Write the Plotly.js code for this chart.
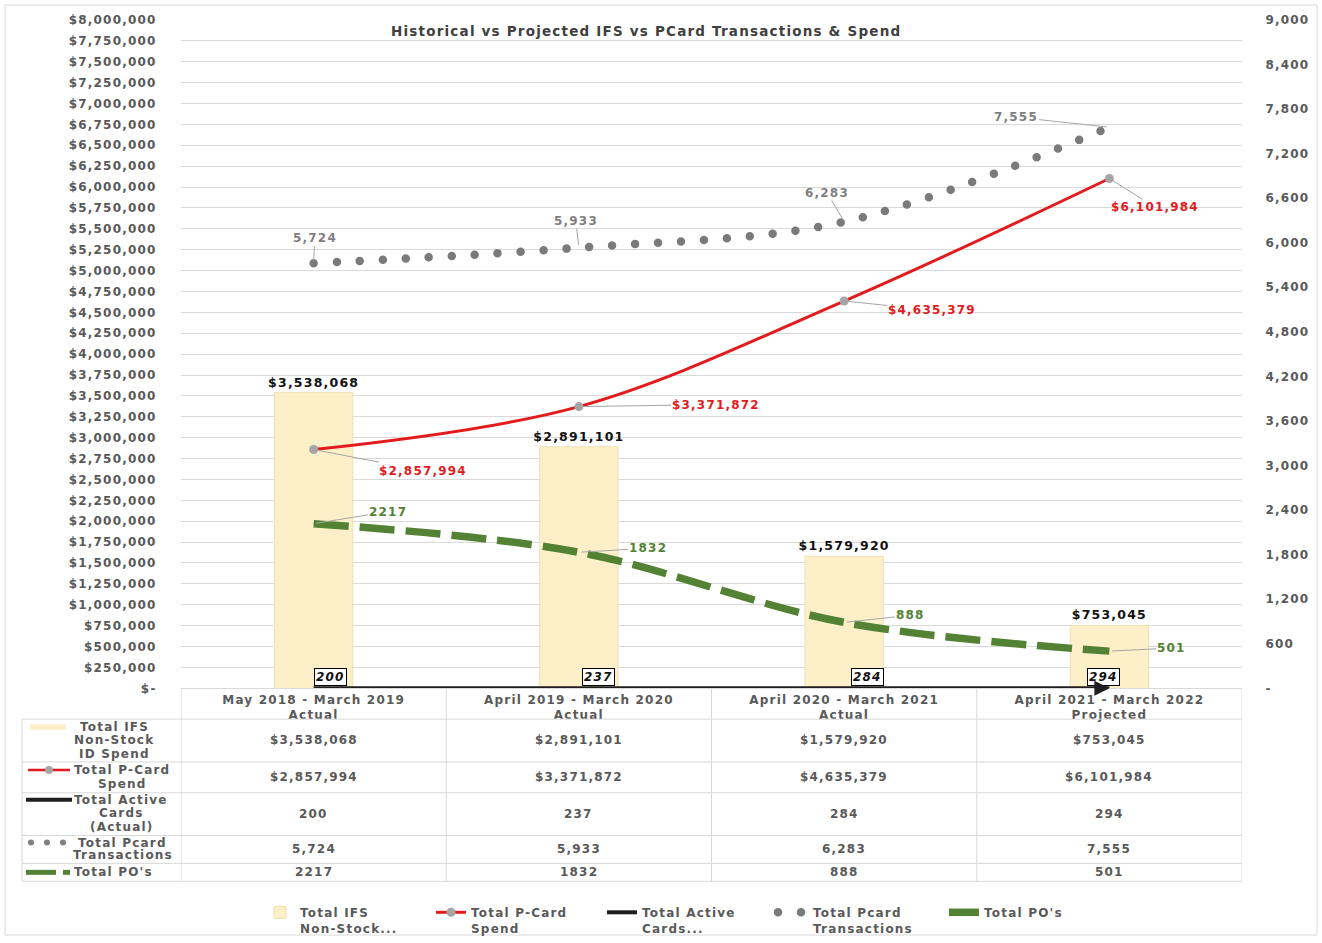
<!DOCTYPE html>
<html>
<head>
<meta charset="utf-8">
<script src="https://cdn.plot.ly/plotly-3.0.1.min.js"></script>
<style>
html,body{margin:0;padding:0;background:#fff;}
svg text{letter-spacing:1.2px;}
path[style*="stroke-dasharray: 0px"]{stroke-linecap:round !important;}
</style>
</head>
<body>
<div id="chart" style="width:1322px;height:943px;"></div>
<script>
// ---------------- data ----------------
const categories = [
  "May 2018 - March 2019<br>Actual",
  "April 2019 - March 2020<br>Actual",
  "April 2020 - March 2021<br>Actual",
  "April 2021 - March 2022<br>Projected"
];
const ifsSpend = [3538068, 2891101, 1579920, 753045];
const pcardSpend = [2857994, 3371872, 4635379, 6101984];
const activeCards = [200, 237, 284, 294];
const pcardTransactions = [5724, 5933, 6283, 7555];
const totalPOs = [2217, 1832, 888, 501];

const legendNames = [
  "Total IFS<br>Non-Stock...",
  "Total P-Card<br>Spend",
  "Total Active<br>Cards...",
  "Total Pcard<br>Transactions",
  "Total PO's"
];
const rowLabels = [
  "Total IFS<br>Non-Stock<br>ID Spend",
  "Total P-Card<br>Spend",
  "Total Active<br>Cards<br>(Actual)",
  "Total Pcard<br>Transactions",
  "Total PO's"
];
const chartTitle = "Historical vs Projected IFS vs PCard Transactions & Spend";
const leftTickMax = 8000000, leftTickStep = 250000;
const rightTickMax = 9000, rightTickStep = 600;

// ---------------- helpers ----------------
const W = 1322, H = 943;
const px = p => p / W;          // x pixel -> paper
const py = p => (H - p) / H;    // y pixel -> paper
const money = v => "$" + v.toLocaleString("en-US");
const num = v => v.toLocaleString("en-US");

const FONT = "DejaVu Sans";
const GRAY = "#595959";
const baseFont = (size, color) => ({family: FONT, size: size, color: color || GRAY, weight: 700});

const leftTickVals = [], leftTickText = [];
for (let v = 0; v <= leftTickMax; v += leftTickStep) {
  leftTickVals.push(v);
  leftTickText.push(v === 0 ? "$-" : money(v));
}
const rightTickVals = [], rightTickText = [];
for (let v = 0; v <= rightTickMax; v += rightTickStep) {
  rightTickVals.push(v);
  rightTickText.push(v === 0 ? "-" : num(v));
}

// ---------------- traces ----------------
const traces = [
  {
    type: "bar", name: legendNames[0], x: categories, y: ifsSpend, yaxis: "y",
    width: 0.295,
    marker: {color: "#FDF0C9", line: {color: "#F1DFB0", width: 1}},
    text: ifsSpend.map(money), textposition: "outside", cliponaxis: false, constraintext: "none",
    textfont: baseFont(12.5, "#111111"), hoverinfo: "skip"
  },
  {
    type: "scatter", mode: "lines+markers", name: legendNames[1], x: categories, y: pcardSpend, yaxis: "y",
    line: {color: "#E31B1D", width: 3, shape: "spline"},
    marker: {color: "#A5A5A5", size: 9}, hoverinfo: "skip"
  },
  {
    type: "scatter", mode: "lines", name: legendNames[2], x: categories, y: activeCards, yaxis: "y",
    line: {color: "#1E1E1E", width: 4}, hoverinfo: "skip", cliponaxis: false
  },
  {
    type: "scatter", mode: "lines", name: legendNames[3], x: categories, y: pcardTransactions, yaxis: "y2",
    line: {color: "#7A7A7A", width: 8.5, dash: "0px,23px", shape: "spline"}, hoverinfo: "skip"
  },
  {
    type: "scatter", mode: "lines", name: legendNames[4], x: categories, y: totalPOs, yaxis: "y2",
    line: {color: "#548235", width: 7.5, dash: "35px,11px", shape: "spline"}, hoverinfo: "skip"
  }
];

// ---------------- annotations ----------------
const annotations = [];
// title
annotations.push({xref: "paper", yref: "paper", x: px(646), y: py(31), xanchor: "center", yanchor: "middle",
  text: chartTitle, showarrow: false, font: baseFont(13.5, "#404040")});

// leader-line data labels
const leader = (xi, yv, yref, text, color, ax, ay) => ({
  xref: "x", yref: yref, x: categories[xi], y: yv, text: text, showarrow: true,
  arrowhead: 0, arrowwidth: 1, arrowcolor: "#A6A6A6", ax: ax, ay: ay, standoff: 3,
  font: baseFont(12, color)
});
const transOff = [[1, -25], [-3, -27], [-17, -29], [-93, -10]];
pcardTransactions.forEach((v, i) => annotations.push(leader(i, v, "y2", num(v), "#7F7F7F", transOff[i][0], transOff[i][1])));
const spendOff = [[109, 21], [137, -2], [88, 9], [46, 29]];
pcardSpend.forEach((v, i) => annotations.push(leader(i, v, "y", money(v), "#E31B1D", spendOff[i][0], spendOff[i][1])));
const poOff = [[74, -12], [69, -4], [66, -7], [62, -3]];
totalPOs.forEach((v, i) => annotations.push(leader(i, v, "y2", String(v), "#548235", poOff[i][0], poOff[i][1])));

// active card boxed labels
const cardShift = [17, 20, 23, -6];
activeCards.forEach((v, i) => annotations.push({
  xref: "x", yref: "y", x: categories[i], y: v, text: "<i>" + v + "</i>", showarrow: false,
  xshift: cardShift[i], yshift: 11, bgcolor: "#FFFFFF", bordercolor: "#000000", borderwidth: 1, borderpad: 1,
  font: baseFont(12, "#111111")
}));
// arrow head at end of active cards line
annotations.push({xref: "x", yref: "y", x: categories[3], y: activeCards[3], text: "", showarrow: true,
  arrowhead: 2, arrowsize: 1, arrowwidth: 3, arrowcolor: "#1E1E1E", ax: -14, ay: 0, standoff: -8});

// data table body
const rowCenters = [744, 781, 818, 854, 877];
const tableRows = [ifsSpend.map(money), pcardSpend.map(money), activeCards.map(String), pcardTransactions.map(num), totalPOs.map(String)];
tableRows.forEach((row, r) => row.forEach((txt, c) => annotations.push({
  xref: "x", yref: "paper", x: categories[c], y: py(rowCenters[r]), text: txt, showarrow: false,
  xanchor: "center", yanchor: "middle", font: baseFont(12)
})));
// row labels, one annotation per line for tight line spacing
const rowLabelX = [114, 122, 121, 123, 72];
const rowLineY = [[731, 744, 758], [774, 788], [804, 817, 831], [847, 860], [877]];
rowLabels.forEach((t, r) => t.split("<br>").forEach((line, k) => annotations.push({
  xref: "paper", yref: "paper", x: px(rowLabelX[r]), y: py(rowLineY[r][k]), text: line, showarrow: false,
  xanchor: r === 4 ? "left" : "center", yanchor: "middle", font: baseFont(12)
})));

// ---------------- shapes (table grid, legend keys, border) ----------------
const LG = "#D9D9D9";
const shapes = [];
shapes.push({type: "rect", xref: "paper", yref: "paper", x0: px(5), x1: px(1317), y0: py(5), y1: py(940), line: {color: LG, width: 1}});
[-0.5, 0.5, 1.5, 2.5, 3.5].forEach(xv => shapes.push({type: "line", xref: "x", yref: "paper", x0: xv, x1: xv, y0: py(692), y1: py(886), line: {color: LG, width: 1}, layer: "below"}));
[723, 766, 797, 840, 868, 886].forEach(yp => shapes.push({type: "line", xref: "paper", yref: "paper", x0: px(22), x1: px(1242), y0: py(yp), y1: py(yp), line: {color: LG, width: 1}}));
shapes.push({type: "line", xref: "paper", yref: "paper", x0: px(22), x1: px(22), y0: py(723), y1: py(886), line: {color: LG, width: 1}});
// keys in table row headers
shapes.push({type: "rect", xref: "paper", yref: "paper", x0: px(30), x1: px(66), y0: py(728), y1: py(734), fillcolor: "#FDF0C9", line: {width: 0}});
shapes.push({type: "line", xref: "paper", yref: "paper", x0: px(28), x1: px(70), y0: py(774), y1: py(774), line: {color: "#E31B1D", width: 2.5}});
shapes.push({type: "circle", xref: "paper", yref: "paper", x0: px(45), x1: px(53), y0: py(770), y1: py(778), fillcolor: "#A5A5A5", line: {width: 0}});
shapes.push({type: "line", xref: "paper", yref: "paper", x0: px(26), x1: px(72), y0: py(804), y1: py(804), line: {color: "#1E1E1E", width: 4}});
[31, 47, 63].forEach(cx => shapes.push({type: "circle", xref: "paper", yref: "paper", x0: px(cx - 3), x1: px(cx + 3), y0: py(844), y1: py(850), fillcolor: "#7F7F7F", line: {width: 0}}));
shapes.push({type: "line", xref: "paper", yref: "paper", x0: px(26), x1: px(56), y0: py(877), y1: py(877), line: {color: "#548235", width: 5}});
shapes.push({type: "line", xref: "paper", yref: "paper", x0: px(63), x1: px(70), y0: py(877), y1: py(877), line: {color: "#548235", width: 5}});

// ---------------- layout ----------------
const layout = {
  width: W, height: H,
  margin: {l: 0, r: 0, t: 0, b: 0, pad: 0},
  paper_bgcolor: "#FFFFFF", plot_bgcolor: "#FFFFFF",
  font: baseFont(12),
  showlegend: true,
  hovermode: false,
  bargap: 0,
  xaxis: {
    type: "category", domain: [px(181), px(1242)], range: [-0.5, 3.5],
    showgrid: false, zeroline: false, showline: true, linecolor: LG, linewidth: 1,
    ticks: "", tickfont: baseFont(12), fixedrange: true, anchor: "y"
  },
  yaxis: {
    domain: [py(692), py(20)], range: [0, leftTickMax],
    tickmode: "array", tickvals: leftTickVals, ticktext: leftTickText,
    showgrid: true, gridcolor: LG, gridwidth: 1, zeroline: false, showline: false,
    ticks: "outside", ticklen: 21, tickcolor: "rgba(0,0,0,0)", tickfont: baseFont(12), fixedrange: true
  },
  yaxis2: {
    overlaying: "y", side: "right", anchor: "x", range: [0, rightTickMax],
    tickmode: "array", tickvals: rightTickVals, ticktext: rightTickText,
    showgrid: false, zeroline: false, showline: false,
    ticks: "outside", ticklen: 20, tickcolor: "rgba(0,0,0,0)", tickfont: baseFont(12), fixedrange: true
  },
  legend: {
    orientation: "h", x: px(260), xanchor: "left", y: py(903), yanchor: "top",
    font: baseFont(12), valign: "top", entrywidth: 126, bgcolor: "rgba(0,0,0,0)", itemwidth: 30
  },
  annotations: annotations,
  shapes: shapes
};

Plotly.newPlot("chart", traces, layout, {displayModeBar: false, staticPlot: true}).then(gd => {
  gd.querySelectorAll("path").forEach(p => {
    const d = p.style.strokeDasharray || "";
    if (d.indexOf("0px") === 0) p.style.strokeLinecap = "round";
  });
});
</script>
</body>
</html>
